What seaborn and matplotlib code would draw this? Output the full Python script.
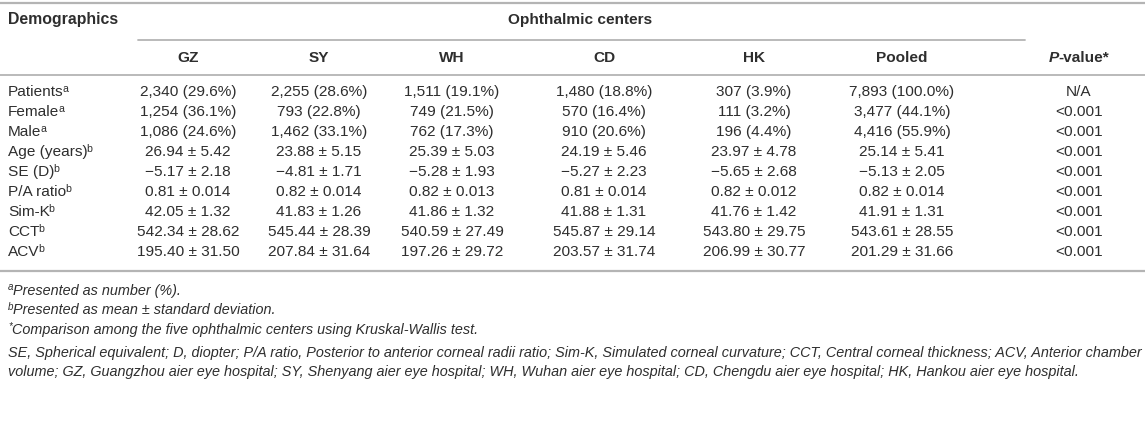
import matplotlib
matplotlib.use("Agg")
import matplotlib.pyplot as plt
import seaborn as sns

# Table content
row_labels = ["Patients", "Female", "Male", "Age (years)", "SE (D)", "P/A ratio",
              "Sim-K", "CCT", "ACV"]
row_marks = ["a", "a", "a", "b", "b", "b", "b", "b", "b"]
centers = ["GZ", "SY", "WH", "CD", "HK", "Pooled"]
gz = ["2,340 (29.6%)", "1,254 (36.1%)", "1,086 (24.6%)", "26.94 ± 5.42", "−5.17 ± 2.18",
      "0.81 ± 0.014", "42.05 ± 1.32", "542.34 ± 28.62", "195.40 ± 31.50"]
sy = ["2,255 (28.6%)", "793 (22.8%)", "1,462 (33.1%)", "23.88 ± 5.15", "−4.81 ± 1.71",
      "0.82 ± 0.014", "41.83 ± 1.26", "545.44 ± 28.39", "207.84 ± 31.64"]
wh = ["1,511 (19.1%)", "749 (21.5%)", "762 (17.3%)", "25.39 ± 5.03", "−5.28 ± 1.93",
      "0.82 ± 0.013", "41.86 ± 1.32", "540.59 ± 27.49", "197.26 ± 29.72"]
cd = ["1,480 (18.8%)", "570 (16.4%)", "910 (20.6%)", "24.19 ± 5.46", "−5.27 ± 2.23",
      "0.81 ± 0.014", "41.88 ± 1.31", "545.87 ± 29.14", "203.57 ± 31.74"]
hk = ["307 (3.9%)", "111 (3.2%)", "196 (4.4%)", "23.97 ± 4.78", "−5.65 ± 2.68",
      "0.82 ± 0.012", "41.76 ± 1.42", "543.80 ± 29.75", "206.99 ± 30.77"]
pooled = ["7,893 (100.0%)", "3,477 (44.1%)", "4,416 (55.9%)", "25.14 ± 5.41", "−5.13 ± 2.05",
          "0.82 ± 0.014", "41.91 ± 1.31", "543.61 ± 28.55", "201.29 ± 31.66"]
p_values = ["N/A"] + ["<0.001"] * 8

footnotes = [
    ("a", "Presented as number (%)."),
    ("b", "Presented as mean ± standard deviation."),
    ("*", "Comparison among the five ophthalmic centers using Kruskal-Wallis test."),
    ("", "SE, Spherical equivalent; D, diopter; P/A ratio, Posterior to anterior corneal radii ratio; "
         "Sim-K, Simulated corneal curvature; CCT, Central corneal thickness; ACV, Anterior chamber"),
    ("", "volume; GZ, Guangzhou aier eye hospital; SY, Shenyang aier eye hospital; WH, Wuhan aier eye "
         "hospital; CD, Chengdu aier eye hospital; HK, Hankou aier eye hospital."),
]

sns.set_theme(style="white")
plt.rcParams["font.family"] = ["Liberation Sans", "DejaVu Sans"]

TXT = "#2e2e2e"
LINE = "#b4b4b4"
FS = 11.1
FS_HEAD = 11.4
FS_NOTE = 10.4

W, H = 1145, 447
fig = plt.figure(figsize=(W / 100, H / 100), dpi=100)
ax = fig.add_axes([0, 0, 1, 1])
ax.set_xlim(0, W)
ax.set_ylim(H, 0)
ax.axis("off")
fig.canvas.draw()
renderer = fig.canvas.get_renderer()


def draw_runs(x, y, runs, ha="left"):
    # runs: list of (text, size, weight, style, dy, dx)
    objs = []
    widths = []
    for s, size, weight, style, dy, dx in runs:
        t = ax.text(0, y + dy, s, fontsize=size, fontweight=weight, fontstyle=style,
                    color=TXT, ha="left", va="baseline")
        bb = t.get_window_extent(renderer=renderer)
        objs.append((t, dx))
        widths.append(bb.width + dx)
    total = sum(widths)
    start = x - total / 2 if ha == "center" else x
    for (t, dx), w in zip(objs, widths):
        t.set_x(start + dx)
        start += w


def plain(s, size=FS, weight="normal", style="normal"):
    return (s, size, weight, style, 0, 0)


def sup(s, size, style="normal", dx=-1.2):
    return (s, size * 0.68, "normal", style, -4.5, dx)


col_x = [188, 319, 452, 604, 754, 902]
p_x = 1079
label_x = 8
top_y, group_y, head_y, bottom_y = 3, 40, 75, 271
row_base0, row_step = 96, 20

# rules
ax.plot([0, W], [top_y, top_y], color=LINE, lw=1.6)
ax.plot([138, 1025], [group_y, group_y], color=LINE, lw=1.3)
ax.plot([0, W], [head_y, head_y], color=LINE, lw=1.3)
ax.plot([0, W], [bottom_y, bottom_y], color=LINE, lw=1.6)

# headers
draw_runs(label_x, 24, [plain("Demographics", FS_HEAD, "bold")])
draw_runs(580, 24, [plain("Ophthalmic centers", FS, "bold")], ha="center")
for cx, name in zip(col_x, centers):
    draw_runs(cx, 62, [plain(name, FS, "bold")], ha="center")
draw_runs(p_x, 62, [plain("P", FS, "bold", "italic"), plain("-value*", FS, "bold")], ha="center")

# body
columns = [gz, sy, wh, cd, hk, pooled]
for i, (lab, mark) in enumerate(zip(row_labels, row_marks)):
    yb = row_base0 + i * row_step
    draw_runs(label_x, yb, [plain(lab), sup(mark, FS)])
    for cx, col in zip(col_x, columns):
        draw_runs(cx, yb, [plain(col[i])], ha="center")
    draw_runs(p_x, yb, [plain(p_values[i])], ha="center")

# footnotes
note_y = [295, 314, 334, 357, 376]
for (mark, text), yb in zip(footnotes, note_y):
    runs = []
    if mark:
        runs.append(sup(mark, FS_NOTE, "italic", dx=0))
    runs.append(plain(text, FS_NOTE, "normal", "italic"))
    draw_runs(label_x, yb, runs)

fig.savefig("out.png", dpi=100, facecolor="white")
